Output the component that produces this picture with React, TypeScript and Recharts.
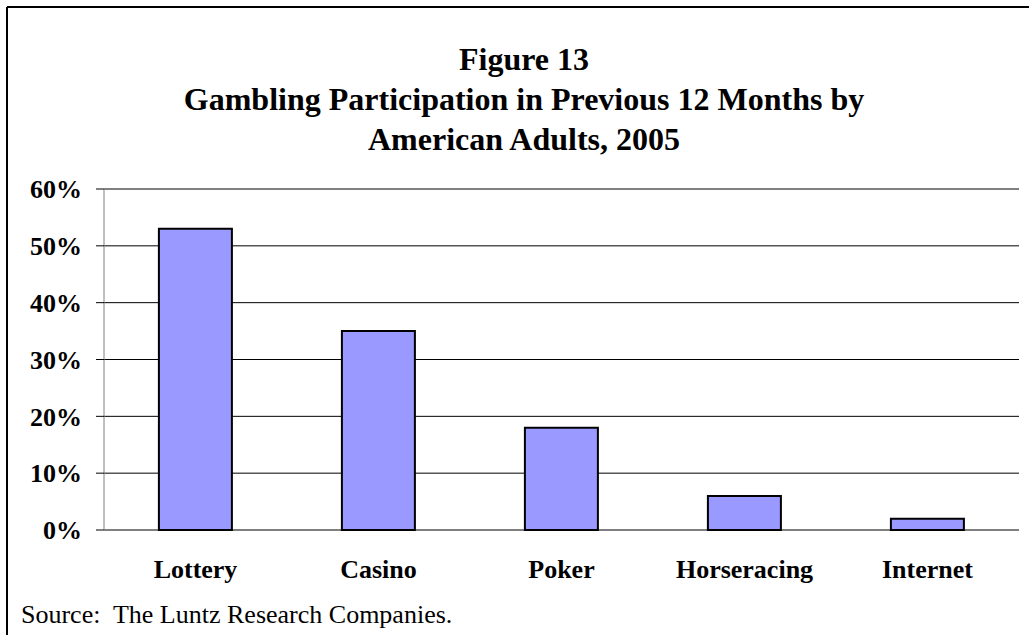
import { Bar, BarChart, CartesianGrid, ReferenceLine, XAxis, YAxis } from "recharts";

const categories = ["Lottery", "Casino", "Poker", "Horseracing", "Internet"];
const participation = [53, 35, 18, 6, 2];
const yTicks = [0, 10, 20, 30, 40, 50, 60];
const boundaryTicks = [0, 1, 2, 3, 4, 5];
const titleLines = [
  "Figure 13",
  "Gambling Participation in Previous 12 Months by",
  "American Adults, 2005",
];
const sourceNote = "Source:\u00a0 The Luntz Research Companies.";

const data = categories.map((name, i) => ({ name, value: participation[i] }));

const serif = "'Liberation Serif', 'Times New Roman', serif";

export default function App() {
  return (
    <div style={{ position: "absolute", left: 0, top: 0, width: 1029, height: 635, background: "#fff" }}>
      <BarChart
        data={data}
        height={635}
        margin={{ bottom: 0, left: 0, right: 10, top: 189 }}
        width={1029}
        barCategoryGap="30%"
      >
        <CartesianGrid horizontal stroke="#000" vertical={false} xAxisId="cat" />
        <XAxis
          allowDataOverflow
          axisLine={{ stroke: "#000" }}
          domain={[0, 5]}
          height={0}
          tickFormatter={() => ""}
          tickLine={{ stroke: "#000" }}
          tickSize={8}
          ticks={boundaryTicks}
          type="number"
          xAxisId="frame"
        />
        <XAxis
          axisLine={false}
          dataKey="name"
          height={105}
          interval={0}
          tick={{ fill: "#000", fontFamily: serif, fontSize: 26, fontWeight: "bold" }}
          tickLine={false}
          tickMargin={30}
          tickSize={0}
          xAxisId="cat"
        />
        <YAxis
          axisLine={{ stroke: "#808080" }}
          domain={[0, 60]}
          tick={{ fill: "#000", fontFamily: serif, fontSize: 26, fontWeight: "bold" }}
          tickFormatter={(v: number) => `${v}%`}
          tickLine={{ stroke: "#000" }}
          tickMargin={14}
          tickSize={8}
          ticks={yTicks}
          width={104}
        />
        <Bar
          dataKey="value"
          fill="#9999ff"
          isAnimationActive={false}
          stroke="#000"
          strokeWidth={2}
          xAxisId="cat"
        />
        <ReferenceLine stroke="#808080" strokeWidth={2} xAxisId="cat" y={60} />
        <ReferenceLine stroke="#808080" strokeWidth={2} x={5} xAxisId="frame" />
      </BarChart>
      <svg
        height={635}
        style={{ left: 0, pointerEvents: "none", position: "absolute", top: 0 }}
        width={1029}
      >
        <line stroke="#000" strokeWidth={2} x1={7} x2={1029} y1={7} y2={7} />
        <line stroke="#000" strokeWidth={2} x1={7} x2={7} y1={7} y2={635} />
        {titleLines.map((line, i) => (
          <text
            fill="#000"
            fontFamily={serif}
            fontSize={32}
            fontWeight="bold"
            key={line}
            textAnchor="middle"
            x={524}
            y={70 + i * 40}
          >
            {line}
          </text>
        ))}
        <text fill="#000" fontFamily={serif} fontSize={26} x={21} y={623}>
          {sourceNote}
        </text>
      </svg>
    </div>
  );
}
